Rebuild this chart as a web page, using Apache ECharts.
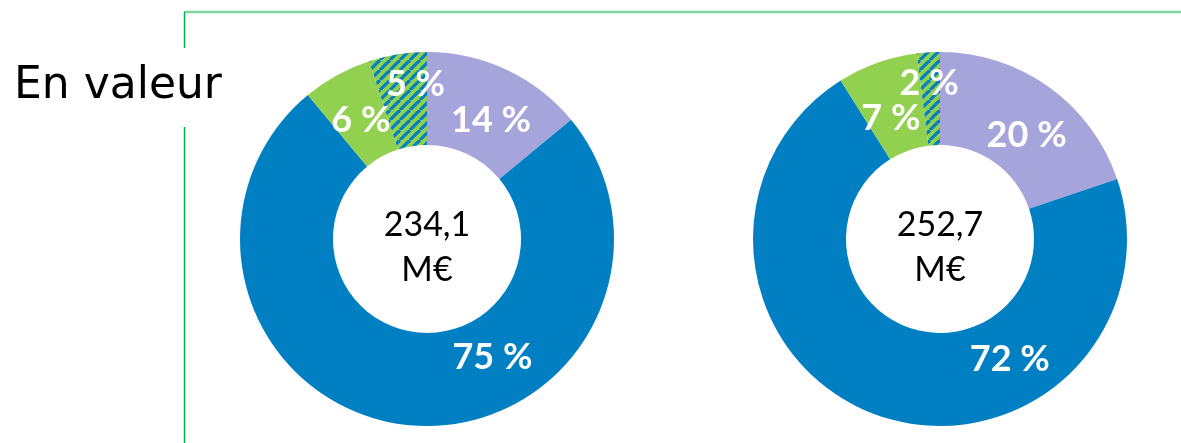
<!DOCTYPE html>
<html>
<head>
<meta charset="utf-8">
<script src="https://cdn.jsdelivr.net/npm/echarts@6/dist/echarts.min.js"></script>
<style>
  html, body { margin: 0; padding: 0; background: #fff; }
  #chart { width: 1181px; height: 443px; }
</style>
</head>
<body>
<div id="chart"></div>
<script>
// parts, clockwise from 12 o'clock
var categories = ['Violet', 'Bleu', 'Vert', 'Hachuré'];
var valuesLeft = [14, 75, 6, 5];
var valuesRight = [20, 72, 7, 2];
var totals = ['234,1\nM€', '252,7\nM€'];
var title = 'En valeur';

var FONT = '"DejaVu Sans", sans-serif';
var FONT2 = 'Lato, "DejaVu Sans", sans-serif';
var BLUE = '#0080C2', PURPLE = '#A5A5DB', GREEN = '#92D050';

// hachures bleues sur fond vert
function hatch() {
    var s = 10;
    var c = document.createElement('canvas');
    c.width = s; c.height = s;
    var ctx = c.getContext('2d');
    ctx.fillStyle = GREEN;
    ctx.fillRect(0, 0, s, s);
    ctx.strokeStyle = BLUE;
    ctx.lineWidth = 3.2;
    [-s, 0, s].forEach(function (k) {
        ctx.beginPath();
        ctx.moveTo(k, s);
        ctx.lineTo(k + s, 0);
        ctx.stroke();
    });
    return c;
}
var pattern = hatch();

// decalage des etiquettes (dx, dy) par part
var shiftLeft = [[3, 11], [79, -24], [3, 7], [11, -13]];
var shiftRight = [[3, 13], [118, -15], [-1, 15], [-2, -12]];

function donut(values, center, shift) {
    var colors = [PURPLE, BLUE, GREEN, {image: pattern, repeat: 'repeat'}];
    return {
        type: 'pie',
        center: center,
        radius: [94, 187],
        startAngle: 90,
        clockwise: true,
        silent: true,
        avoidLabelOverlap: false,
        data: values.map(function (v, i) {
            return {name: categories[i], value: v, itemStyle: {color: colors[i]}};
        }),
        label: {
            show: true,
            position: 'inside',
            formatter: '{c} %',
            color: '#fff',
            fontFamily: FONT2,
            fontWeight: 'bold',
            fontSize: 36
        },
        labelLine: {show: false},
        labelLayout: function (p) {
            var d = shift[p.dataIndex];
            return {dx: d[0], dy: d[1], hideOverlap: false};
        }
    };
}

var chart = echarts.init(document.getElementById('chart'));
chart.setOption({
    animation: false,
    series: [
        donut(valuesLeft, [427, 239], shiftLeft),
        donut(valuesRight, [940, 239], shiftRight)
    ],
    graphic: [
        {type: 'line', shape: {x1: 184, y1: 12, x2: 1181, y2: 12}, style: {stroke: '#7FD6A3', lineWidth: 2.5}},
        {type: 'line', shape: {x1: 184.5, y1: 12, x2: 184.5, y2: 48}, style: {stroke: '#00B050', lineWidth: 1.5}},
        {type: 'line', shape: {x1: 184.5, y1: 127, x2: 184.5, y2: 443}, style: {stroke: '#00B050', lineWidth: 1.5}},
        {type: 'text', left: 14, top: 65, style: {text: title, font: '44px ' + FONT, fill: '#000'}},
        {type: 'text', x: 427, y: 248, style: {text: totals[0], font: '34px ' + FONT2, fill: '#000', align: 'center', verticalAlign: 'middle', lineHeight: 45}},
        {type: 'text', x: 940, y: 248, style: {text: totals[1], font: '34px ' + FONT2, fill: '#000', align: 'center', verticalAlign: 'middle', lineHeight: 45}}
    ]
});
</script>
</body>
</html>
